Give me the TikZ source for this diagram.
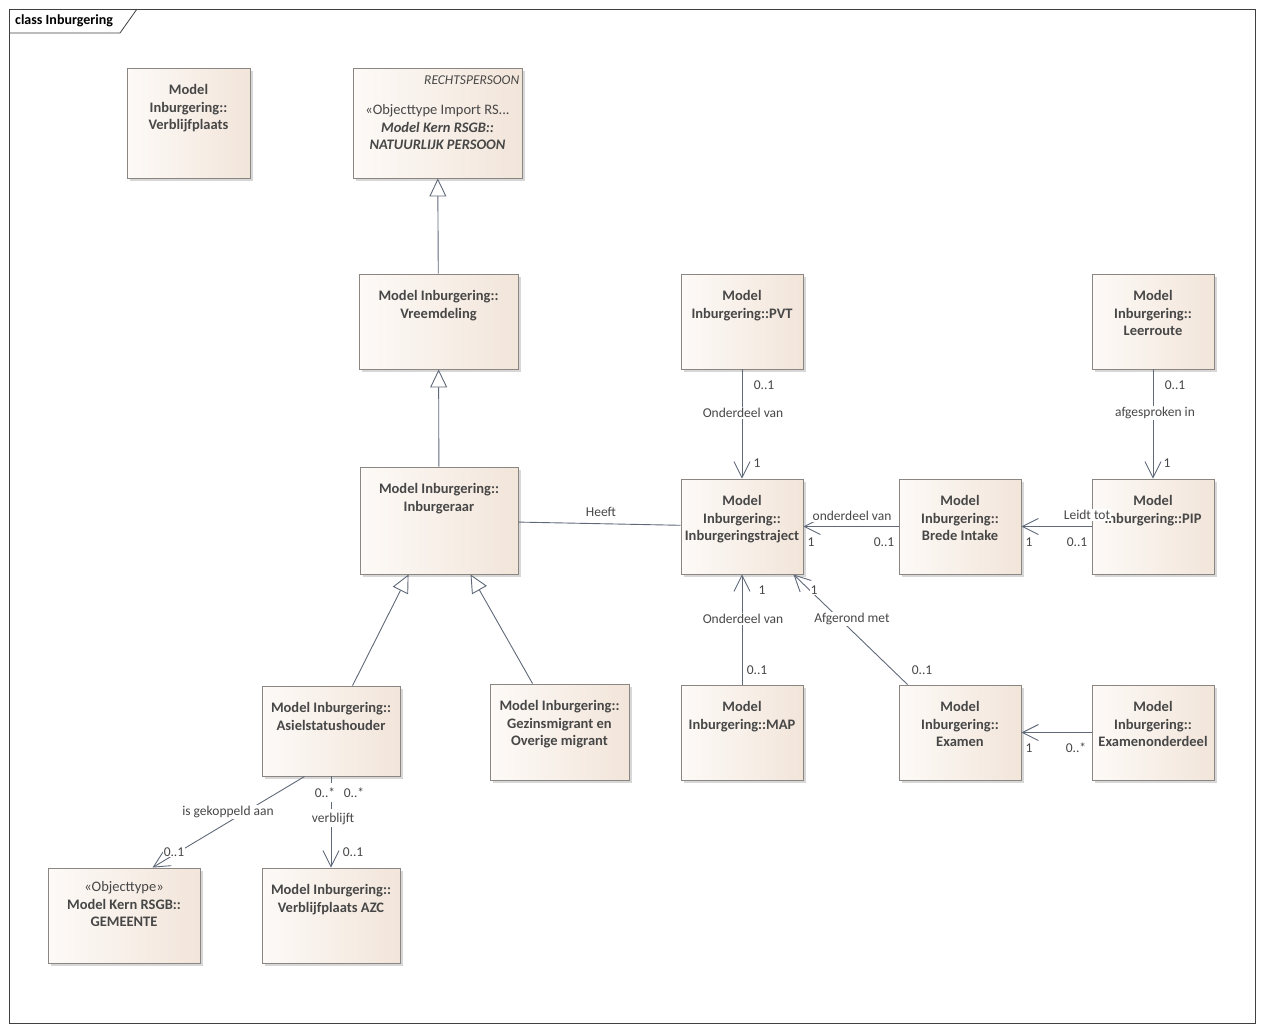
\documentclass[tikz,border=0pt]{standalone}
\usepackage{fontspec}
\setmainfont{Carlito}
\usetikzlibrary{arrows.meta,calc,fit,shadows}
\definecolor{boxlight}{HTML}{FDFAF7}
\definecolor{boxdark}{HTML}{F2E5DA}
\definecolor{boxline}{HTML}{8C8682}
\definecolor{linecol}{HTML}{606979}
\definecolor{txtcol}{HTML}{474747}
\tikzset{
  cls/.style={draw=boxline, line width=0.9pt, left color=boxlight, right color=boxdark, inner sep=0pt,
    drop shadow={shadow xshift=3pt, shadow yshift=-3pt, fill=black!35, opacity=0.45}},
  ctext/.style={anchor=north, yshift=-17pt, inner sep=0pt, align=center, text=txtcol,
    font=\fontsize{14.5}{17.5}\selectfont\bfseries},
  ctag/.style={anchor=north east, xshift=-3pt, yshift=-8pt, inner sep=0pt, text=txtcol,
    font=\fontsize{13.5}{16}\selectfont\itshape},
  plain/.style={draw=linecol, line width=0.9pt},
  assoc/.style={plain, -{Straight Barb[length=16pt, width=16pt]}},
  gen/.style={plain, -{Triangle[open, length=18pt, width=17pt, fill=white]}},
  lbl/.style={fill=white, inner sep=1pt, text=txtcol, font=\fontsize{13.5}{15}\selectfont}
}
\begin{document}
\begin{tikzpicture}[x=1pt,y=-1pt]
  \useasboundingbox (0,0) rectangle (1263,1031);
  % frame
  \draw [draw=black!75, line width=0.8pt] (9,9) rectangle (1255,1023);
  \draw [draw=black!75, line width=0.8pt] (9,33) -- (120,33) -- (137,9);
  \node (title) [anchor=west, inner sep=0pt, font=\fontsize{14}{16}\selectfont\bfseries] at (15,21) {class Inburgering};

  % classes
  \node (verblijf) [cls, fit={(127,68) (250,178)},
    label={[ctext]north:Model\\Inburgering::\\Verblijfplaats}] {};
  \node (natpers) [cls, fit={(353,68) (522,178)},
    label={[ctag]north east:RECHTSPERSOON},
    label={[ctext, yshift=-20pt]north:{\mdseries\upshape «Objecttype Import RS...}\\\itshape Model Kern RSGB::\\\itshape NATUURLIJK PERSOON}] {};
  \node (vreemd) [cls, fit={(359,274) (518,369)},
    label={[ctext]north:Model Inburgering::\\Vreemdeling}] {};
  \node (inbrg) [cls, fit={(360,467) (518,574)},
    label={[ctext]north:Model Inburgering::\\Inburgeraar}] {};
  \node (pvt) [cls, fit={(681,274) (803,369)},
    label={[ctext]north:Model\\Inburgering::PVT}] {};
  \node (leerroute) [cls, fit={(1092,274) (1214,369)},
    label={[ctext]north:Model\\Inburgering::\\Leerroute}] {};
  \node (traject) [cls, fit={(681,479) (803,574)},
    label={[ctext]north:Model\\Inburgering::\\Inburgeringstraject}] {};
  \node (intake) [cls, fit={(899,479) (1021,574)},
    label={[ctext]north:Model\\Inburgering::\\Brede Intake}] {};
  \node (pip) [cls, fit={(1092,479) (1214,574)},
    label={[ctext]north:Model\\Inburgering::PIP}] {};
  \node (asiel) [cls, fit={(262,686) (400,776)},
    label={[ctext]north:Model Inburgering::\\Asielstatushouder}] {};
  \node (gezin) [cls, fit={(490,684) (629,780)},
    label={[ctext]north:Model Inburgering::\\Gezinsmigrant en\\Overige migrant}] {};
  \node (map) [cls, fit={(681,685) (803,780)},
    label={[ctext]north:Model\\Inburgering::MAP}] {};
  \node (examen) [cls, fit={(899,685) (1021,780)},
    label={[ctext]north:Model\\Inburgering::\\Examen}] {};
  \node (exdeel) [cls, fit={(1092,685) (1214,780)},
    label={[ctext]north:Model\\Inburgering::\\Examenonderdeel}] {};
  \node (gemeente) [cls, fit={(48,868) (200,963)},
    label={[ctext, yshift=3pt]north:{\mdseries «Objecttype»}\\Model Kern RSGB::\\GEMEENTE}] {};
  \node (azc) [cls, fit={(262,868) (400,963)},
    label={[ctext]north:Model Inburgering::\\Verblijfplaats AZC}] {};

  % generalisations
  \draw [gen] (vreemd) -- (natpers);
  \draw [gen] (inbrg) -- (vreemd);
  \draw [gen] ($(asiel.north west)+(91,0)$) -- ($(inbrg.south west)+(49,0)$);
  \draw [gen] ($(gezin.north west)+(43,0)$) -- ($(inbrg.south west)+(111,0)$);

  % associations
  \draw [plain] (inbrg) -- (traject);
  \draw [assoc] (pvt) -- (traject);
  \draw [assoc] (leerroute) -- (pip);
  \draw [assoc] (intake) -- (traject);
  \draw [assoc] (pip) -- (intake);
  \draw [assoc] (map) -- (traject);
  \draw [assoc] ($(examen.north west)+(9,0)$) -- ($(traject.south east)+(-10,0)$);
  \draw [assoc] (exdeel) -- (examen);
  \draw [assoc] ($(asiel.south west)+(43,0)$) -- ($(gemeente.north west)+(105,0)$);
  \coordinate (azcmid) at (331,827);
  \draw [plain, dash pattern=on 7pt off 6pt] (asiel.south) -- (azcmid);
  \draw [assoc] (azcmid) -- (azc.north);

  % labels
  \node (l1) [lbl] at (601,512) {Heeft};
  \node (l2) [lbl] at (764,385) {0..1};
  \node (l3) [lbl] at (743,413) {Onderdeel van};
  \node (l4) [lbl] at (757,463) {1};
  \node (l5) [lbl] at (1175,385) {0..1};
  \node (l6) [lbl] at (1155,413) {afgesproken in};
  \node (l7) [lbl] at (1167,463) {1};
  \node (l8) [lbl] at (852,516) {onderdeel van};
  \node (l9) [lbl] at (811,542) {1};
  \node (l10) [lbl] at (884,542) {0..1};
  \node (l11) [lbl] at (1087,515) {Leidt tot};
  \node (l12) [lbl] at (1029,542) {1};
  \node (l13) [lbl] at (1077,542) {0..1};
  \node (l14) [lbl] at (762,590) {1};
  \node (l15) [lbl] at (743,619) {Onderdeel van};
  \node (l16) [lbl] at (757,670) {0..1};
  \node (l17) [lbl] at (814,590) {1};
  \node (l18) [lbl] at (852,619) {Afgerond met};
  \node (l19) [lbl] at (922,670) {0..1};
  \node (l20) [lbl] at (1029,748) {1};
  \node (l21) [lbl] at (1076,748) {0..*};
  \node (l22) [lbl] at (228,812) {is gekoppeld aan};
  \node (l23) [lbl] at (174,852) {0..1};
  \node (l24) [lbl] at (325,793) {0..*};
  \node (l25) [lbl] at (354,793) {0..*};
  \node (l26) [lbl] at (333,819) {verblijft};
  \node (l27) [lbl] at (353,852) {0..1};
\end{tikzpicture}
\end{document}
